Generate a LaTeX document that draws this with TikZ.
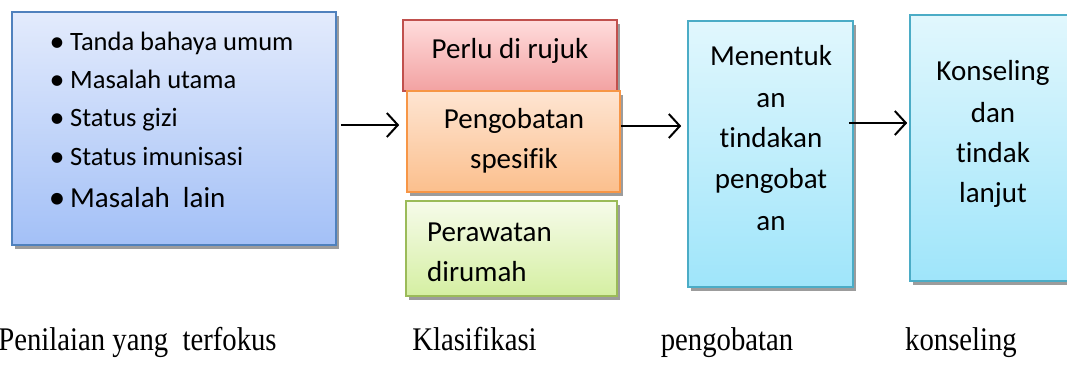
\documentclass[tikz,border=0pt]{standalone}
\usepackage{fontspec}
\newfontfamily\carl[Ligatures=NoCommon]{Carlito}
\newfontfamily\capserif[FakeStretch=0.87]{Liberation Serif}
\usetikzlibrary{arrows.meta,shadows}

\definecolor{bluetop}{HTML}{E3EBFC}
\definecolor{bluebot}{HTML}{A3C0F7}
\definecolor{blueline}{HTML}{4F81BD}
\definecolor{redtop}{HTML}{FFDCDC}
\definecolor{redbot}{HTML}{F2A2A2}
\definecolor{redline}{HTML}{C0504D}
\definecolor{orgtop}{HTML}{FEE5D2}
\definecolor{orgbot}{HTML}{FBBF8D}
\definecolor{orgline}{HTML}{F79646}
\definecolor{grntop}{HTML}{F6FBEA}
\definecolor{grnbot}{HTML}{D5EFA2}
\definecolor{grnline}{HTML}{9BBB59}
\definecolor{cyntop}{HTML}{E1F7FD}
\definecolor{cynbot}{HTML}{9FE5FA}
\definecolor{cynline}{HTML}{4BACC6}
\definecolor{shadowgray}{HTML}{9C9C9C}

\begin{document}
\begin{tikzpicture}[x=1pt,y=-1pt,
  card/.style={draw, line width=1.6pt, inner sep=0pt,
    general shadow={fill=shadowgray, shadow xshift=3pt, shadow yshift=-4pt}},
  listtxt/.style={anchor=base west, inner sep=0pt, font=\carl\fontsize{26.5}{30}\selectfont},
  dot/.style={anchor=base, inner sep=0pt, font=\carl\fontsize{30}{33}\selectfont},
  boxtxt/.style={anchor=base, inner sep=0pt, font=\carl\fontsize{29}{33}\selectfont},
  caption/.style={anchor=base, inner sep=0pt, font=\capserif\fontsize{33}{36}\selectfont},
  flow/.style={line width=2pt, -{Straight Barb[length=11pt, width=24pt, line width=2pt]}}]

\clip (0,0) rectangle (1067,367);
\fill[white] (0,0) rectangle (1067,367);

% assessment box with its checklist
\node[card, draw=blueline, top color=bluetop, bottom color=bluebot,
      minimum width=324pt, minimum height=233pt] (assess) at (174,128.5) {};
\node[dot] (d1) at (57,51) {•};
\node[listtxt] (l1) at (70,50) {Tanda bahaya umum};
\node[dot] (d2) at (57,89) {•};
\node[listtxt] (l2) at (70,88) {Masalah utama};
\node[dot] (d3) at (57,127) {•};
\node[listtxt] (l3) at (70,126) {Status gizi};
\node[dot] (d4) at (57,166) {•};
\node[listtxt] (l4) at (70,165) {Status imunisasi};
\node[dot, font=\carl\fontsize{33}{36}\selectfont] (d5) at (57,208) {•};
\node[listtxt, font=\carl\fontsize{29}{33}\selectfont] (l5) at (70,207) {Masalah\ \ lain};

% classification boxes
\node[card, draw=redline, top color=redtop, bottom color=redbot,
      minimum width=214pt, minimum height=71pt] (refer) at (510,55.5) {};
\node[boxtxt] (t-refer) at (510,58) {Perlu di rujuk};

\node[card, draw=orgline, top color=orgtop, bottom color=orgbot,
      minimum width=213pt, minimum height=101pt] (treat) at (513.5,141.5) {};
\node[boxtxt] (t-treat1) at (514,128) {Pengobatan};
\node[boxtxt] (t-treat2) at (514,168) {spesifik};

\node[card, draw=grnline, top color=grntop, bottom color=grnbot,
      minimum width=211pt, minimum height=95pt] (home) at (511.5,248.5) {};
\node[boxtxt, anchor=base west] (t-home1) at (427,241) {Perawatan};
\node[boxtxt, anchor=base west] (t-home2) at (427,281) {dirumah};

% treatment box
\node[card, draw=cynline, top color=cyntop, bottom color=cynbot,
      minimum width=165pt, minimum height=266pt] (decide) at (770.5,154) {};
\node[boxtxt] (t-dec1) at (771,65) {Menentuk};
\node[boxtxt] (t-dec2) at (771,107) {an};
\node[boxtxt] (t-dec3) at (771,147) {tindakan};
\node[boxtxt] (t-dec4) at (771,188) {pengobat};
\node[boxtxt] (t-dec5) at (771,230) {an};

% counselling box
\node[card, draw=cynline, top color=cyntop, bottom color=cynbot,
      minimum width=170pt, minimum height=266pt] (counsel) at (995,148) {};
\node[boxtxt] (t-cou1) at (993,80) {Konseling};
\node[boxtxt] (t-cou2) at (993,122) {dan};
\node[boxtxt] (t-cou3) at (993,162) {tindak};
\node[boxtxt] (t-cou4) at (993,202) {lanjut};

% flow arrows
\draw[flow] (assess.east |- 0,125) ++(4,0) -- ([xshift=-7pt]treat.west |- 0,125);
\draw[flow] (treat.east |- 0,126) -- ([xshift=-6pt]decide.west |- 0,126);
\draw[flow] ([xshift=-5pt]decide.east |- 0,123) -- ([xshift=-2pt]counsel.west |- 0,123);

% step captions
\node[caption] (c1) at (137.5,350) {Penilaian yang\ \ terfokus};
\node[caption] (c2) at (474.5,350) {Klasifikasi};
\node[caption] (c3) at (727,350) {pengobatan};
\node[caption] (c4) at (961,350) {konseling};
\end{tikzpicture}
\end{document}
